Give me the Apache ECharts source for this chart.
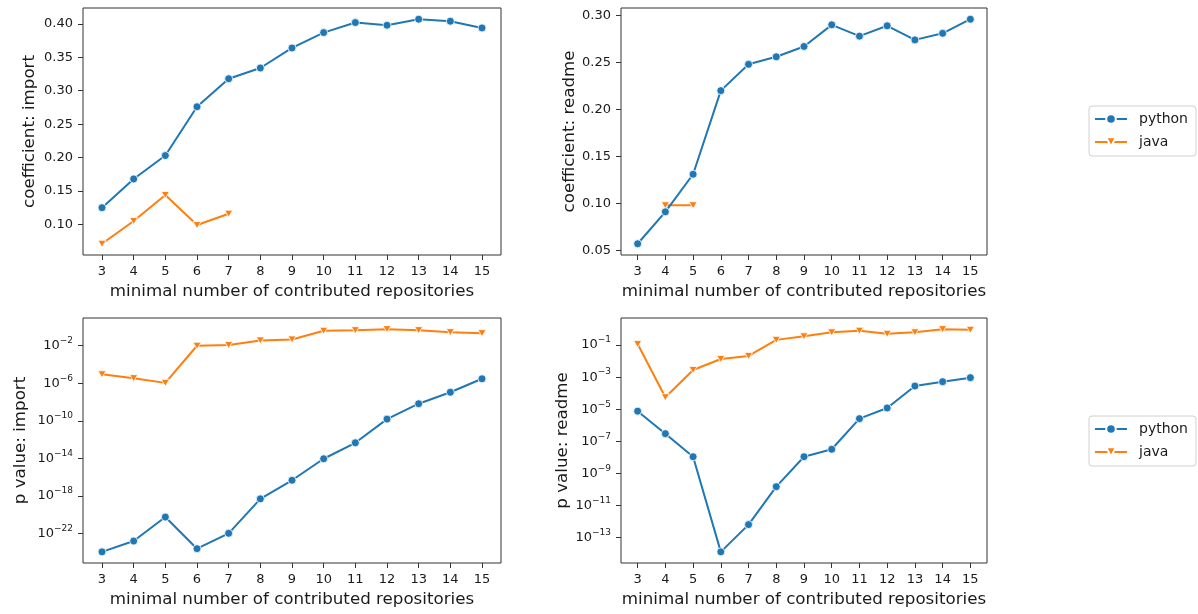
<!DOCTYPE html>
<html>
<head>
<meta charset="utf-8">
<script src="https://cdn.jsdelivr.net/npm/echarts@6/dist/echarts.min.js"></script>
<style>
  html, body { margin: 0; padding: 0; background: #fff; }
  #main { width: 1198px; height: 614px; }
</style>
</head>
<body>
<div id="main"></div>
<script>
// x values: minimal number of contributed repositories
const minRepos = [3, 4, 5, 6, 7, 8, 9, 10, 11, 12, 13, 14, 15]

// coefficients
const coefImportPython = [0.125, 0.168, 0.203, 0.276, 0.318, 0.334, 0.364, 0.387, 0.402, 0.398, 0.407, 0.404, 0.394]
const coefImportJava = [0.071, 0.105, 0.144, 0.099, 0.116, null, null, null, null, null, null, null, null]
const coefReadmePython = [0.057, 0.091, 0.131, 0.220, 0.248, 0.256, 0.267, 0.290, 0.278, 0.289, 0.274, 0.281, 0.296]
const coefReadmeJava = [null, 0.098, 0.098, null, null, null, null, null, null, null, null, null, null]

// p values
const pImportPython = [1.05e-24, 1.5e-23, 5.4e-21, 2.3e-24, 1.0e-22, 4.7e-19, 4.5e-17, 8.9e-15, 4.5e-13, 1.5e-10, 6.6e-9, 1.1e-7, 3.0e-6]
const pImportJava = [9.1e-6, 3.5e-6, 1.1e-6, 1.0e-2, 1.2e-2, 3.7e-2, 4.7e-2, 0.39, 0.46, 0.59, 0.46, 0.28, 0.22]
const pReadmePython = [7.6e-6, 3.0e-7, 1.1e-8, 1.3e-14, 6.5e-13, 1.5e-10, 1.1e-8, 3.2e-8, 2.6e-6, 1.2e-5, 2.8e-4, 5.2e-4, 9.3e-4]
const pReadmeJava = [0.115, 5.6e-5, 2.8e-3, 1.35e-2, 2.1e-2, 0.21, 0.35, 0.62, 0.78, 0.50, 0.62, 0.98, 0.89]

// tick labels
const xTicks = [3, 4, 5, 6, 7, 8, 9, 10, 11, 12, 13, 14, 15]
const coefImportTicks = [0.10, 0.15, 0.20, 0.25, 0.30, 0.35, 0.40]
const coefReadmeTicks = [0.05, 0.10, 0.15, 0.20, 0.25, 0.30]
const pImportTicks = [-22, -18, -14, -10, -6, -2]   // exponents of 10
const pReadmeTicks = [-13, -11, -9, -7, -5, -3, -1]

const FONT = 'DejaVu Sans'
const BLUE = '#1f77b4'
const ORANGE = '#ff7f0e'
const TEXT = '#1a1a1a'
const XNAME = 'minimal number of contributed repositories'

// matplotlib style 5% margins
function padded(values) {
  const v = values.filter(d => d != null)
  const lo = Math.min.apply(null, v)
  const hi = Math.max.apply(null, v)
  const m = (hi - lo) * 0.05
  return [lo - m, hi + m]
}

function pairs(ys, fn) {
  const res = []
  minRepos.forEach((x, i) => {
    if (ys[i] != null) res.push([x, fn ? fn(ys[i]) : ys[i]])
  })
  return res
}

const grids = [
  { left: 83, top: 8, width: 418, height: 247 },
  { left: 621, top: 8, width: 366, height: 247 },
  { left: 83, top: 318, width: 418, height: 245 },
  { left: 621, top: 318, width: 366, height: 245 }
]

const xExt = padded(minRepos)

function xAxis(i) {
  return {
    type: 'value',
    gridIndex: i,
    min: xExt[0],
    max: xExt[1],
    name: XNAME,
    nameLocation: 'middle',
    nameGap: 28,
    nameTextStyle: { fontFamily: FONT, fontSize: 16.7, color: TEXT },
    axisLine: { show: false, onZero: false },
    splitLine: { show: false },
    axisTick: { show: true, length: 5, lineStyle: { color: '#333' }, customValues: xTicks },
    axisLabel: { fontFamily: FONT, fontSize: 13, color: TEXT, margin: 10, customValues: xTicks }
  }
}

const logFmt = v => '{b|10}{s|\u2212' + Math.abs(v) + '}'

function yAxis(i, name, gap, ext, ticks, isLog) {
  const label = { fontFamily: FONT, fontSize: 13, color: TEXT, margin: 10, customValues: ticks }
  if (isLog) {
    label.formatter = logFmt
    label.rich = {
      b: { fontFamily: FONT, fontSize: 13, color: TEXT },
      s: { fontFamily: FONT, fontSize: 9, color: TEXT, padding: [0, 0, 10, 0] }
    }
  } else {
    label.formatter = v => v.toFixed(2)
  }
  return {
    type: 'value',
    gridIndex: i,
    min: ext[0],
    max: ext[1],
    name: name,
    nameLocation: 'middle',
    nameGap: gap,
    nameTextStyle: { fontFamily: FONT, fontSize: 16.7, color: TEXT },
    axisLine: { show: false, onZero: false },
    splitLine: { show: false },
    axisTick: { show: true, length: 5, lineStyle: { color: '#333' }, customValues: ticks },
    axisLabel: label
  }
}

function series(i, name, ys, fn) {
  const py = name === 'python'
  const color = py ? BLUE : ORANGE
  return {
    name: name,
    type: 'line',
    xAxisIndex: i,
    yAxisIndex: i,
    data: pairs(ys, fn),
    symbol: py ? 'circle' : 'triangle',
    symbolSize: py ? 8 : [8, 7],
    symbolRotate: py ? 0 : 180,
    showAllSymbol: true,
    lineStyle: { width: 2, color: color },
    itemStyle: { color: color, borderColor: '#fff', borderWidth: 0.8 },
    emphasis: { disabled: true },
    z: py ? 3 : 2
  }
}

function legend(top) {
  return {
    orient: 'vertical',
    left: 1089,
    top: top,
    data: ['python', 'java'],
    itemWidth: 32,
    itemHeight: 12,
    itemGap: 9,
    padding: [6, 8, 7, 5],
    borderColor: '#d0d0d0',
    borderWidth: 1,
    borderRadius: 3,
    backgroundColor: '#fff',
    selectedMode: false,
    textStyle: { fontFamily: FONT, fontSize: 14, color: TEXT, padding: [0, 0, 0, 7] }
  }
}

const log10 = v => Math.log10(v)

const option = {
  animation: false,
  backgroundColor: '#fff',
  grid: grids.map(g => Object.assign({ show: true, borderColor: '#333', borderWidth: 1, backgroundColor: 'transparent' }, g)),
  xAxis: [xAxis(0), xAxis(1), xAxis(2), xAxis(3)],
  yAxis: [
    yAxis(0, 'coefficient: import', 45, padded(coefImportPython.concat(coefImportJava)), coefImportTicks, false),
    yAxis(1, 'coefficient: readme', 40, padded(coefReadmePython.concat(coefReadmeJava)), coefReadmeTicks, false),
    yAxis(2, 'p value: import', 54, padded(pImportPython.concat(pImportJava).map(log10)), pImportTicks, true),
    yAxis(3, 'p value: readme', 47, padded(pReadmePython.concat(pReadmeJava).map(log10)), pReadmeTicks, true)
  ],
  legend: [legend(106), legend(416)],
  series: [
    series(0, 'python', coefImportPython),
    series(0, 'java', coefImportJava),
    series(1, 'python', coefReadmePython),
    series(1, 'java', coefReadmeJava),
    series(2, 'python', pImportPython, log10),
    series(2, 'java', pImportJava, log10),
    series(3, 'python', pReadmePython, log10),
    series(3, 'java', pReadmeJava, log10)
  ]
}

const myChart = echarts.init(document.getElementById('main'), null, { renderer: 'canvas' })
myChart.setOption(option)
</script>
</body>
</html>
